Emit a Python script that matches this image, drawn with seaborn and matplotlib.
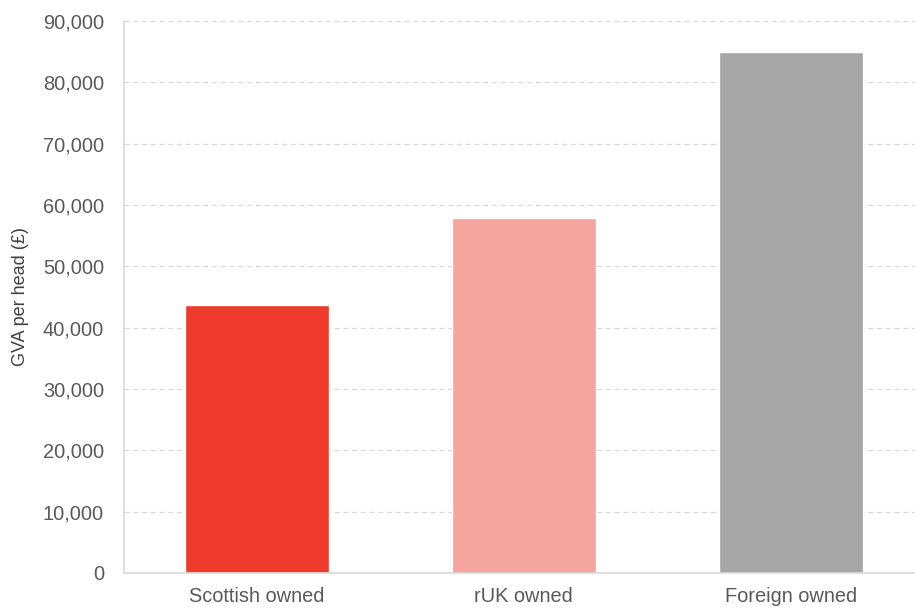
import matplotlib
matplotlib.use("Agg")
import matplotlib.pyplot as plt
import seaborn as sns
import pandas as pd
from matplotlib.ticker import FuncFormatter

categories = ["Scottish owned", "rUK owned", "Foreign owned"]
gva_per_head = [43700, 57900, 85000]
bar_colors = ["#EF3B2C", "#F6A49E", "#A6A6A6"]

sns.set_style("white")
plt.rcParams["font.family"] = ["Liberation Sans", "DejaVu Sans"]

df = pd.DataFrame({"ownership": categories, "gva": gva_per_head})

fig = plt.figure(figsize=(9.15, 6.08), dpi=100)
ax = fig.add_axes([0.135, 0.0576, 0.875, 0.908])

sns.barplot(data=df, x="ownership", y="gva", hue="ownership",
            palette=bar_colors, width=0.54, legend=False, ax=ax,
            saturation=1)

ax.set_ylim(0, 90000)
ax.set_yticks(range(0, 90001, 10000))
ax.yaxis.set_major_formatter(FuncFormatter(lambda v, _: f"{int(v):,}"))
ax.set_xlim(-0.5, 2.5)
ax.grid(axis="y", color="#D9D9D9", linestyle=(0, (4, 3)), linewidth=0.9)
ax.set_axisbelow(True)

for side in ["top", "right"]:
    ax.spines[side].set_visible(False)
for side in ["left", "bottom"]:
    ax.spines[side].set_color("#D9D9D9")
    ax.spines[side].set_linewidth(1.2)

ax.tick_params(axis="y", length=0, labelsize=14.4, colors="#595959", pad=14)
ax.tick_params(axis="x", length=0, labelsize=14.4, colors="#595959", pad=10)
ax.set_xlabel("")
ax.set_ylabel("GVA per head (£)", fontsize=13, color="#404040", labelpad=10)

fig.savefig("out.png", dpi=100)
